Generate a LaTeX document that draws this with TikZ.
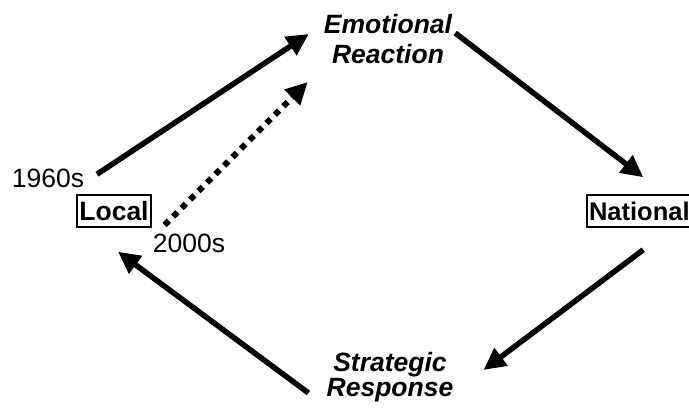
\documentclass[tikz,border=0pt]{standalone}
\usepackage{fontspec}
\setmainfont{Liberation Sans}
\usetikzlibrary{arrows.meta}

\begin{document}
\begin{tikzpicture}[x=1pt, y=-1pt,
  box/.style = {draw, line width=2pt, font=\fontsize{26.5}{30}\selectfont\bfseries, inner xsep=2pt, inner ysep=6pt, text height=19.5pt, text depth=0pt},
  stage/.style = {align=center, inner sep=0pt, font=\fontsize{26.5}{30}\selectfont\bfseries\itshape},
  year/.style = {inner sep=0pt, font=\fontsize{26.5}{30}\selectfont},
  arr/.style = {line width=5.5pt, -{Triangle[length=22pt,width=21pt]}},
  dots/.style = {line width=6pt, dash pattern=on 6pt off 6pt, -{Triangle[length=22pt,width=21pt]}}]
			\useasboundingbox (0,0) rectangle (689,410);
			\node[stage] (emo) at (388,39) {Emotional\\Reaction};
			\node[stage, font=\fontsize{26.5}{25}\selectfont\bfseries\itshape] (strat) at (390,377) {Strategic\\Response};
			\node[box] (local) at (114,211) {Local};
			\node[box, anchor=west, font=\fontsize{25.5}{30}\selectfont\bfseries] (nat) at (586,211) {National};
			\node[year] (y1960) at (48,178) {1960s};
			\node[year] (y2000) at (189,243) {2000s};
			\draw[arr] ([shift={(-17,-20)}]local.north) -- ([shift={(-15,-5)}]emo.west);
			\draw[dots] ([shift={(13,14)}]local.east) -- ([shift={(-16,43)}]emo.west);
			\draw[arr] ([shift={(3,-6)}]emo.east) -- ([shift={(4,-17)}]nat.north);
			\draw[arr] ([shift={(4,22)}]nat.south) -- ([shift={(30,-7)}]strat.east);
			\draw[arr] ([shift={(-18,16)}]strat.west) -- ([shift={(4,24)}]local.south);
		\end{tikzpicture}
\end{document}
